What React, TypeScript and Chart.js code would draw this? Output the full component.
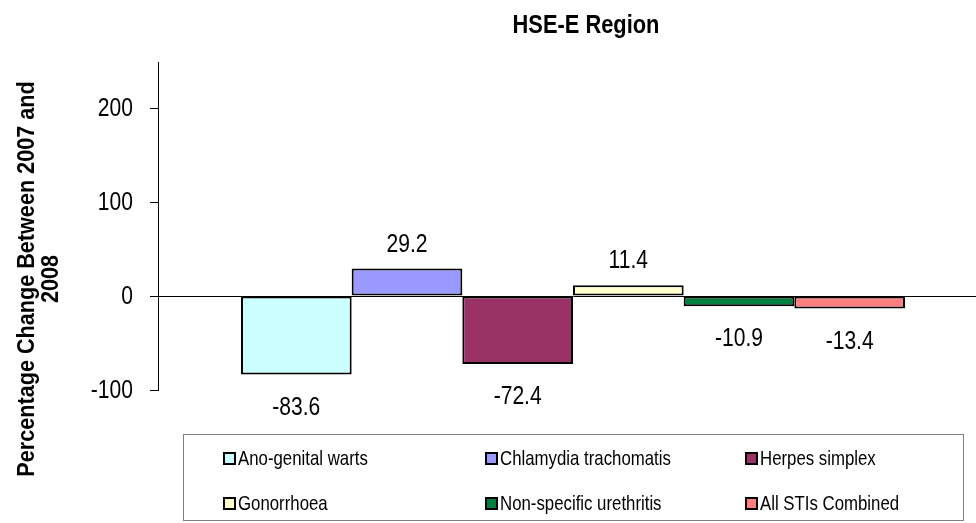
import React, { useEffect, useRef } from 'react';
import { Chart, registerables } from 'chart.js';

Chart.register(...registerables);

const TITLE = 'HSE-E Region';
const Y_TITLE_LINES = ['Percentage Change Between 2007 and', '2008'];
const CATEGORIES = [''];
const SERIES_NAMES = [
  'Ano-genital warts',
  'Chlamydia trachomatis',
  'Herpes simplex',
  'Gonorrhoea',
  'Non-specific urethritis',
  'All STIs Combined',
];
const SERIES_VALUES = [-83.6, 29.2, -72.4, 11.4, -10.9, -13.4];
const SERIES_COLORS = ['#CCFFFF', '#9999FF', '#993366', '#FFFFCC', '#008040', '#FF8080'];
const Y_TICKS = [-100, 0, 100, 200];
const Y_MIN = -100;
const Y_MAX = 249;

const SANS = '"Liberation Sans", Arial, sans-serif';
const NARROW_X = 0.81;

const LEGEND_COLS = [223, 485, 745];
const LEGEND_ROWS = [458, 503];

function narrowText(ctx: any, txt: string, x: number, y: number, sx: number) {
  ctx.save();
  ctx.translate(x, y);
  ctx.scale(sx, 1);
  ctx.fillText(txt, 0, 0);
  ctx.restore();
}

const labelPlugin = {
  id: 'valueLabels',
  afterDatasetsDraw(chart: any) {
    const ctx = chart.ctx;
    ctx.save();
    ctx.font = `26px ${SANS}`;
    ctx.fillStyle = '#000';
    ctx.textAlign = 'center';
    ctx.textBaseline = 'alphabetic';
    chart.data.datasets.forEach((ds: any, i: number) => {
      const meta = chart.getDatasetMeta(i);
      meta.data.forEach((bar: any, j: number) => {
        const v = ds.data[j];
        const txt = v.toFixed(1);
        if (v >= 0) narrowText(ctx, txt, bar.x, bar.y - 17, NARROW_X);
        else narrowText(ctx, txt, bar.x, bar.y + 40, NARROW_X);
      });
    });
    ctx.restore();
  },
};

const titlePlugin = {
  id: 'titles',
  afterDraw(chart: any) {
    const ctx = chart.ctx;
    ctx.save();
    ctx.fillStyle = '#000';

    // y tick labels
    const ys = chart.scales.y;
    ctx.font = `26px ${SANS}`;
    ctx.textAlign = 'right';
    ctx.textBaseline = 'middle';
    Y_TICKS.forEach((v) => {
      narrowText(ctx, String(v), 133, ys.getPixelForValue(v) + 1, NARROW_X);
    });

    // chart title
    ctx.font = `bold 26px ${SANS}`;
    ctx.textAlign = 'center';
    ctx.textBaseline = 'alphabetic';
    narrowText(ctx, TITLE, 586, 33, 0.84);

    // y-axis title
    ctx.font = `bold 23px ${SANS}`;
    const cy = 279;
    const xs = [34, 58];
    Y_TITLE_LINES.forEach((line, k) => {
      ctx.save();
      ctx.translate(xs[k], cy);
      ctx.rotate(-Math.PI / 2);
      ctx.scale(0.94, 1);
      ctx.fillText(line, 0, 0);
      ctx.restore();
    });
    ctx.restore();
  },
};

export default function App() {
  const canvasRef = useRef<HTMLCanvasElement | null>(null);

  useEffect(() => {
    document.body.style.margin = '0';
    const canvas = canvasRef.current;
    if (!canvas) return;
    const chart = new Chart(canvas, {
      type: 'bar',
      data: {
        labels: CATEGORIES,
        datasets: SERIES_NAMES.map((name, i) => ({
          label: name,
          data: [SERIES_VALUES[i]],
          backgroundColor: SERIES_COLORS[i],
          borderColor: '#000',
          borderWidth: 2,
          borderSkipped: false,
          categoryPercentage: 0.8,
          barPercentage: 1.0,
        })),
      },
      options: {
        responsive: false,
        animation: false,
        devicePixelRatio: 1,
        layout: { padding: { top: 62, bottom: 133, left: 0, right: 0 } },
        plugins: {
          legend: { display: false },
          tooltip: { enabled: false },
          title: { display: false },
        },
        scales: {
          x: {
            type: 'category',
            display: false,
            grid: { display: false },
          },
          y: {
            min: Y_MIN,
            max: Y_MAX,
            afterBuildTicks: (scale: any) => {
              scale.ticks = Y_TICKS.map((v) => ({ value: v }));
            },
            afterFit: (scale: any) => {
              scale.width = 158;
            },
            ticks: {
              display: false,
            },
            grid: {
              color: (c: any) => (c.tick && c.tick.value === 0 ? '#000' : 'rgba(0,0,0,0)'),
              tickColor: '#000',
              tickLength: 8,
              lineWidth: 1,
            },
            border: { display: true, color: '#000', width: 1 },
          },
        },
      },
      plugins: [labelPlugin, titlePlugin],
    });
    return () => chart.destroy();
  }, []);

  const order = [0, 1, 2, 3, 4, 5];

  return (
    <div style={{ position: 'relative', width: 976, height: 523, overflow: 'hidden', background: '#fff' }}>
      <canvas
        ref={canvasRef}
        width={988}
        height={523}
        style={{ position: 'absolute', left: 0, top: 0, width: 988, height: 523 }}
      />
      <div
        style={{
          position: 'absolute',
          left: 183,
          top: 434,
          width: 781,
          height: 87,
          border: '1px solid #808080',
          boxSizing: 'border-box',
        }}
      />
      {order.map((i) => {
        const col = i % 3;
        const row = Math.floor(i / 3);
        return (
          <div
            key={SERIES_NAMES[i]}
            style={{
              position: 'absolute',
              left: LEGEND_COLS[col],
              top: LEGEND_ROWS[row] - 12,
              height: 24,
              display: 'flex',
              alignItems: 'center',
              whiteSpace: 'nowrap',
              fontFamily: SANS,
              fontSize: 21,
              color: '#000',
            }}
          >
            <span
              style={{
                display: 'inline-block',
                flex: '0 0 auto',
                width: 13,
                height: 13,
                boxSizing: 'border-box',
                border: '2px solid #000',
                background: SERIES_COLORS[i],
                marginRight: 2,
              }}
            />
            <span style={{ display: 'inline-block', transform: 'scaleX(0.8)', transformOrigin: 'left center' }}>
              {SERIES_NAMES[i]}
            </span>
          </div>
        );
      })}
    </div>
  );
}
